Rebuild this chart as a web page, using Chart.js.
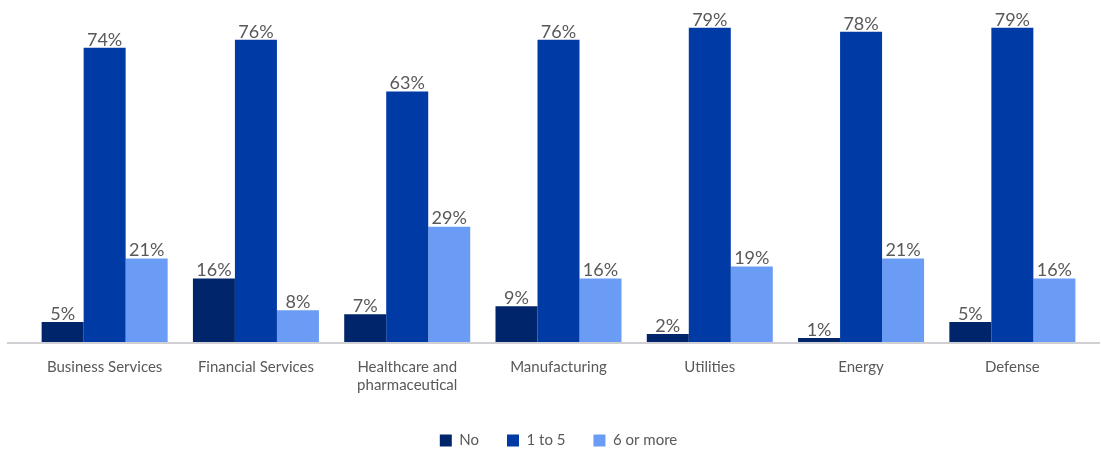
<!DOCTYPE html>
<html>
<head>
    <title>Alerts by Industry</title>
    <script src="https://cdn.jsdelivr.net/npm/chart.js"></script>
    <style>
        html, body { margin: 0; padding: 0; background: #fff; }
        #wrap { width: 1101px; height: 451px; }
    </style>
</head>
<body>
    <div id="wrap"><canvas id="industryChart"></canvas></div>

    <script>
        const categories = ['Business Services', 'Financial Services', ['Healthcare and', 'pharmaceutical'],
            'Manufacturing', 'Utilities', 'Energy', 'Defense'];
        const seriesNo = [5, 16, 7, 9, 2, 1, 5];
        const seriesOneToFive = [74, 76, 63, 76, 79, 78, 79];
        const seriesSixPlus = [21, 8, 29, 16, 19, 21, 16];

        const labelColor = '#58595b';
        const fontFamily = 'Lato, "Open Sans", sans-serif';

        // value on top of every bar
        const valueLabels = {
            id: 'valueLabels',
            afterDatasetsDraw(chart) {
                const ctx = chart.ctx;
                ctx.save();
                ctx.font = '18px ' + fontFamily;
                ctx.fillStyle = labelColor;
                ctx.textAlign = 'center';
                ctx.textBaseline = 'bottom';
                chart.data.datasets.forEach((ds, i) => {
                    chart.getDatasetMeta(i).data.forEach((bar, j) => {
                        ctx.fillText(ds.data[j] + '%', bar.x, bar.y + 1);
                    });
                });
                ctx.restore();
            }
        };

        // baseline running almost the full width
        const baseLine = {
            id: 'baseLine',
            beforeDatasetsDraw(chart) {
                const ctx = chart.ctx;
                const y = chart.scales.y.getPixelForValue(0);
                ctx.save();
                ctx.strokeStyle = '#cfcfd4';
                ctx.lineWidth = 2;
                ctx.beginPath();
                ctx.moveTo(7, y + 1);
                ctx.lineTo(chart.width - 1, y + 1);
                ctx.stroke();
                ctx.restore();
            }
        };

        new Chart(document.getElementById('industryChart'), {
            type: 'bar',
            data: {
                labels: categories,
                datasets: [{
                    label: 'No',
                    data: seriesNo,
                    backgroundColor: '#00256b'
                }, {
                    label: '1 to 5',
                    data: seriesOneToFive,
                    backgroundColor: '#003ba5'
                }, {
                    label: '6 or more',
                    data: seriesSixPlus,
                    backgroundColor: '#6b9cf5'
                }]
            },
            options: {
                responsive: true,
                maintainAspectRatio: false,
                animation: false,
                categoryPercentage: 0.833,
                barPercentage: 1,
                layout: { padding: { left: 29, right: 13, top: 4, bottom: -7 } },
                scales: {
                    x: {
                        grid: { display: false },
                        border: { display: false },
                        ticks: {
                            color: labelColor,
                            font: { family: fontFamily, size: 15 },
                            padding: 8,
                            maxRotation: 0,
                            autoSkip: false
                        },
                        afterFit(scale) { scale.height = 63; }
                    },
                    y: {
                        display: false,
                        min: 0,
                        max: 85
                    }
                },
                plugins: {
                    legend: {
                        position: 'bottom',
                        labels: {
                            color: labelColor,
                            font: { family: fontFamily, size: 15 },
                            boxWidth: 12,
                            boxHeight: 12,
                            padding: 28
                        }
                    },
                    tooltip: { enabled: false }
                }
            },
            plugins: [valueLabels, baseLine]
        });
    </script>
</body>
</html>
